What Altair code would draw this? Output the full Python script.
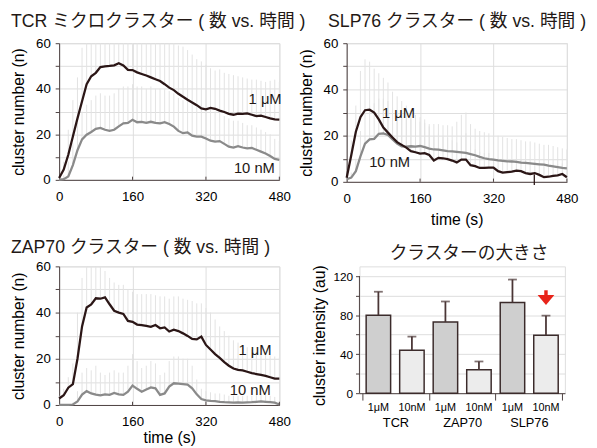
import altair as alt
import pandas as pd

# ---------------- data ----------------
TIME = list(range(0, 481, 10))
XTICK_LABELS = [0, 160, 320, 480]
XTICKS_IN = [160, 320, 480]

tcr_1um = [0.8, 4.5, 11, 19, 27, 34.5, 42, 45.5, 47, 49.5, 49.8, 50, 50.3, 51.2, 50.2, 48.3, 48.2,
           47.2, 46.5, 45.8, 45, 44.2, 43.4, 42, 40.5, 39.4, 37.8, 36.5, 35.2, 34, 32.8, 31.4, 31,
           31.6, 31.2, 30.4, 29.8, 29, 28.6, 29.1, 29, 29.2, 28.6, 28, 28.2, 27.6, 27, 26.6, 26.5]
tcr_10nm = [0, 0.3, 1.5, 6.5, 13, 17.8, 19.8, 21, 22.4, 22.8, 22, 21.5, 22, 23.5, 24.8, 25, 26.4,
            25.3, 25.5, 25, 25.5, 25, 24.8, 25.3, 24.5, 23.4, 21.5, 20.5, 20.8, 19.4, 19, 19, 18.2,
            17.2, 16.8, 17, 15.8, 14.6, 14.2, 14.8, 14.2, 13.8, 14, 13.2, 12.4, 11.6, 10.5, 9.2, 8.8]
tcr_1um_top = [1, 8, 22, 35, 45, 58, 60, 60, 60, 60, 60, 60, 60, 60, 60, 60, 60, 60, 60, 60, 60,
               60, 60, 60, 60, 60, 59, 58.5, 57, 55, 53, 52, 50.5, 49, 48, 48.5, 47, 46.5, 46, 45.5,
               45, 44.5, 44, 44, 43.5, 43, 43.5, 44, 43]
tcr_10nm_top = [0.5, 2, 8, 16, 25, 30, 33, 35, 37, 38, 37, 37, 38, 40, 41, 41, 42, 41, 41, 40, 41,
                40, 40, 40, 39, 38, 36, 35, 35, 34, 33, 33, 32, 31, 30, 30, 28, 27, 26, 26, 25, 24,
                24, 23, 22, 21, 20, 18, 17]

slp_1um = [1.8, 11.5, 21.7, 28, 31, 31.2, 30, 27, 23.5, 21.3, 19.2, 17.2, 16, 14.8, 13.3, 12.8,
           12.2, 12.4, 11.6, 9.2, 10.4, 10.2, 9.8, 9.2, 8.4, 9.6, 9.6, 7.2, 6.8, 6, 6, 6.2, 6.2,
           4.6, 4, 4.2, 4.4, 4.8, 4.6, 3.8, 3.4, 3.8, 3, 2, 2.2, 2.6, 2.8, 3.4, 2]
slp_10nm = [1.1, 1.8, 4.6, 11, 16.5, 18.4, 18.6, 20.8, 21, 20.3, 18.4, 16.6, 15.3, 15.2, 15.4,
            15.2, 15.5, 15, 14.4, 14, 13.9, 13.6, 13.3, 13.2, 13, 12.8, 12.5, 12, 11.5, 10.8, 10.2,
            9.8, 9.6, 9.3, 9.1, 8.9, 8.8, 8.6, 8.3, 8.2, 8, 7.8, 7.6, 7.4, 7, 6.7, 6.4, 6, 5.8]
slp_1um_top = [3, 18, 33, 48, 53, 52, 49, 47, 45, 43, 39, 37, 35, 33, 31, 29, 28, 27, 24, 20, 21,
               20, 19, 18, 17, 20, 21, 16, 14, 13, 12.5, 12.5, 12, 10, 9.5, 9.5, 9.5, 10, 9.5, 9,
               8.5, 8.5, 8, 7, 7, 7.5, 7.5, 8, 7]
slp_10nm_top = [2, 4, 10, 22, 30, 33, 34, 36, 36, 35, 32, 30, 28, 27, 27, 26, 26, 25.5, 25, 25,
                25, 24.5, 24.5, 24, 26, 29, 30, 25, 23, 22, 21.5, 21, 20.5, 20, 19.5, 19, 18.5,
                18.5, 18, 17.5, 17.5, 17, 16.5, 16, 16, 15.5, 15, 14.5, 14]
# the single dark error segment crossing the axis in the SLP76 panel
slp_mark_t = [409]
slp_mark_lo = [-1.4]
slp_mark_hi = [3.2]

zap_1um = [2.8, 4.2, 7.5, 9, 20, 34, 42.2, 43.5, 46.2, 46, 46.6, 43.6, 40.8, 40, 39.4, 36.4, 36,
           34.8, 34.6, 34.2, 33.8, 34.6, 33.2, 33.6, 31.8, 32.6, 32, 31, 29.9, 28.6, 28.4, 29.6,
           26, 24, 22, 20.4, 18.6, 17, 15.8, 15.2, 15, 14.4, 13.8, 13.4, 13, 12.6, 12, 11.4, 11.4]
zap_10nm = [0, 0, 0, 0.2, 1.5, 4.5, 6, 5, 4.5, 4.2, 4.6, 4.4, 5.2, 4.6, 4.4, 5.8, 8.4, 7, 5.7,
            6.7, 7.6, 7.2, 4.4, 5, 8, 9.4, 9.2, 9, 8.8, 7.2, 4.6, 2.6, 2, 1.8, 1.7, 1.4, 1.2, 1.1,
            1, 1.1, 1, 1.1, 1.2, 1.4, 1.6, 1.4, 1.2, 1, 0.2]
zap_1um_top = [4, 7, 12, 18, 40, 55, 60, 60, 60, 60, 58, 55, 53, 52, 52, 50, 49, 48, 48, 48, 48,
               47.5, 47, 47, 46, 47, 47, 46, 45.5, 45, 44, 44, 42, 40, 37, 34, 32, 30, 28, 27, 26,
               25, 24, 23, 22.5, 22, 21.5, 21, 20.5]
zap_10nm_top = [0, 0, 0, 1, 6, 14, 16, 15, 17, 14, 13, 14, 15, 14, 14, 17, 22, 19, 16, 17, 19, 18,
                13, 14, 19, 21, 21, 20, 20, 17, 11, 7, 6, 5.5, 5, 5, 4.5, 4, 4, 4, 4, 4, 4, 4.5, 5,
                4.5, 4, 3.5, 1]

SERIES = ["1 μM", "10 nM"]
# label positions (time, value) for the in-plot series labels
tcr_label_t = [413, 381]
tcr_label_v = [35.4, 5]
slp_label_t = [77, 49]
slp_label_v = [29.9, 8.6]
zap_label_t = [391, 372]
zap_label_v = [23.8, 6.4]

CATS = ["TCR 1μM", "TCR 10nM", "ZAP70 1μM", "ZAP70 10nM", "SLP76 1μM", "SLP76 10nM"]
GROUPS = ["TCR", "TCR", "ZAP70", "ZAP70", "SLP76", "SLP76"]
GROUP_ORDER = ["TCR", "ZAP70", "SLP76"]
CONC = ["1μM", "10nM", "1μM", "10nM", "1μM", "10nM"]
BAR_MEAN = [80, 44, 73, 24, 93, 59.5]
BAR_TOP = [104, 58, 94, 32.5, 116.5, 79.5]
ARROW_CAT = ["SLP76 10nM"]
ARROW_LO = [99]
ARROW_HI = [105.5]
ARROW_HEAD = [95.5]

# ---------------- style ----------------
TXT = "#231815"
AX = "#4d4040"
DARK = "#2b1616"
GREY = "#8a8a8a"
ERR = "#e2e2e2"
FONT = "Liberation Sans"
TFONT = "Liberation Sans, Noto Sans CJK JP"


def x_enc(field, title, tpad):
    return alt.X(f"{field}:Q",
                 scale=alt.Scale(domain=[0, 480], nice=False, zero=False),
                 axis=alt.Axis(values=XTICK_LABELS, ticks=False, labelPadding=10,
                               title=title, titlePadding=tpad, labelFontSize=13.5,
                               titleFontSize=16, titleFontWeight="normal",
                               domainColor=AX, labelFlush=False))


def y_enc(field):
    return alt.Y(f"{field}:Q",
                 scale=alt.Scale(domain=[0, 60], nice=False),
                 axis=alt.Axis(values=list(range(0, 61, 10)),
                               labelExpr="datum.value % 20 == 0 ? datum.label : ''",
                               tickSize=4, labelPadding=5, labelFontSize=13.5,
                               title="cluster number (n)", titlePadding=9,
                               titleFontSize=16, titleFontWeight="normal",
                               domainColor=AX, tickColor=AX))


def line_panel(title, tdx, toff, tdy, m1, u1, m2, u2, lt, lv, height, xtitle, tpad,
               mark=None):
    df = pd.DataFrame({
        "t": TIME + TIME,
        "mean": m1 + m2,
        "upper": u1 + u2,
        "series": [SERIES[0]] * len(TIME) + [SERIES[1]] * len(TIME),
    })
    lab = pd.DataFrame({"lt": lt, "lv": lv, "txt": SERIES})
    tk = pd.DataFrame({"tt": XTICKS_IN, "y0": [0] * 3, "y1": [1.4] * 3})
    base = alt.Chart(df)
    X = lambda f: x_enc(f, xtitle, tpad)
    err = base.mark_rule(color=ERR, strokeWidth=1).encode(
        x=X("t"), y=y_enc("mean"), y2="upper:Q")
    l10 = base.transform_filter(alt.datum.series == SERIES[1]).mark_line(
        color=GREY, strokeWidth=2.3).encode(x=X("t"), y=y_enc("mean"))
    l1 = base.transform_filter(alt.datum.series == SERIES[0]).mark_line(
        color=DARK, strokeWidth=2.3).encode(x=X("t"), y=y_enc("mean"))
    txt = alt.Chart(lab).mark_text(align="left", baseline="middle", fontSize=15,
                                   font=FONT, color=TXT).encode(
        x=X("lt"), y=y_enc("lv"), text="txt:N")
    ticks = alt.Chart(tk).mark_rule(color=AX, strokeWidth=1).encode(
        x=X("tt"), y=y_enc("y0"), y2="y1:Q")
    layers = [err, l10, l1, txt, ticks]
    if mark is not None:
        mdf = pd.DataFrame({"mt": mark[0], "mlo": mark[1], "mhi": mark[2]})
        layers.append(alt.Chart(mdf).mark_rule(color=DARK, strokeWidth=1.3).encode(
            x=X("mt"), y=y_enc("mlo"), y2="mhi:Q"))
    return alt.layer(*layers).properties(
        width=224, height=height,
        title=alt.TitleParams(title, anchor="start", frame="group", dx=tdx, dy=tdy,
                              offset=toff, baseline="alphabetic", fontSize=18, font=TFONT,
                              fontWeight="normal", color=TXT))


p1 = line_panel("TCR ミクロクラスター ( 数 vs. 時間 )", -49, 18, 26,
                tcr_1um, tcr_1um_top, tcr_10nm, tcr_10nm_top,
                tcr_label_t, tcr_label_v, 139, None, 5)
p2 = line_panel("SLP76 クラスター ( 数 vs. 時間 )", -19, 18, 26,
                slp_1um, slp_1um_top, slp_10nm, slp_10nm_top,
                slp_label_t, slp_label_v, 141, "time (s)", 7,
                mark=(slp_mark_t, slp_mark_lo, slp_mark_hi))
p3 = line_panel("ZAP70 クラスター ( 数 vs. 時間 )", -49, 14, 25,
                zap_1um, zap_1um_top, zap_10nm, zap_10nm_top,
                zap_label_t, zap_label_v, 141, "time (s)", 2)

# ---------------- bar panel ----------------
bar_df = pd.DataFrame({"cat": CATS, "grp": GROUPS, "conc": CONC,
                       "mean": BAR_MEAN, "top": BAR_TOP})
arrow_df = pd.DataFrame({"cat": ARROW_CAT, "lo": ARROW_LO, "hi": ARROW_HI, "head": ARROW_HEAD})
axis_line_df = pd.DataFrame({"a": [0], "b": [120]})

cat_axis = alt.Axis(labelExpr="split(datum.label, ' ')[1]", labelAngle=0, ticks=False,
                    tickSize=0, domain=False, labelPadding=9, labelFontSize=11,
                    title=None, labelFont=FONT)
cat_scale = alt.Scale(domain=CATS, paddingInner=0.27, paddingOuter=0.2)
y_axis_b = alt.Axis(values=list(range(0, 121, 20)),
                    labelExpr="datum.value % 40 == 0 ? datum.label : ''",
                    domain=False, tickSize=4, labelPadding=3, labelFontSize=12,
                    title="cluster intensity (au)", titleFontSize=16, titlePadding=6,
                    titleFontWeight="normal", titleY=70, tickColor=AX)
y_scale_b = alt.Scale(domain=[0, 130], nice=False)


def xc():
    return alt.X("cat:N", sort=CATS, scale=cat_scale, axis=cat_axis)


def yb(field):
    return alt.Y(f"{field}:Q", scale=y_scale_b, axis=y_axis_b)


bars = alt.Chart(bar_df).mark_bar(stroke="#3b2b2b", strokeWidth=1.5).encode(
    x=xc(), y=yb("mean"),
    fill=alt.Fill("conc:N", scale=alt.Scale(domain=["1μM", "10nM"],
                                            range=["#cfcfcf", "#ececec"]), legend=None))
errs = alt.Chart(bar_df).mark_rule(color="#4a3636", strokeWidth=1.8).encode(
    x=xc(), y=yb("mean"), y2="top:Q")
caps = alt.Chart(bar_df).mark_tick(color="#4a3636", thickness=1.8, size=9,
                                   orient="horizontal").encode(x=xc(), y=yb("top"))
shaft = alt.Chart(arrow_df).mark_rule(color="#e8241a", strokeWidth=3.5).encode(
    x=xc(), y=yb("lo"), y2="hi:Q")
head = alt.Chart(arrow_df).mark_point(shape="M-1,-0.59L1,-0.59L0,0.59Z", filled=True,
                                      color="#e8241a", size=289, opacity=1,
                                      strokeWidth=0).encode(x=xc(), y=yb("head"))
yline = alt.Chart(axis_line_df).mark_rule(color=AX, strokeWidth=1).encode(
    x=alt.value(0), y=yb("a"), y2="b:Q")
inner = alt.layer(bars, errs, caps, shaft, head, yline)

grp_layer = alt.Chart(bar_df).mark_rule(opacity=0).encode(
    x=alt.X("grp:N", sort=GROUP_ORDER,
            scale=alt.Scale(domain=GROUP_ORDER, paddingInner=0, paddingOuter=0.04),
            axis=alt.Axis(orient="bottom", tickBand="extent", tickSize=7, labelPadding=17,
                          labelAngle=0, labelFontSize=13, title=None, domainColor=AX,
                          tickColor=AX, labelFont=FONT)))

p4 = alt.layer(inner, grp_layer).resolve_scale(x="independent").properties(
    width=209, height=129,
    title=alt.TitleParams("クラスターの大きさ", anchor="middle", frame="group", dx=7, dy=20,
                          offset=8, baseline="alphabetic", fontSize=18, font=TFONT,
                          fontWeight="normal", color=TXT))

row1 = alt.hconcat(p1, p2, spacing=68.5, bounds="flush")
row2 = alt.hconcat(p3, p4, spacing=81.5, bounds="flush")

chart = alt.vconcat(row1, row2, spacing=10).properties(
    padding={"left": 2, "top": 0, "right": 1, "bottom": 2}
).configure_view(stroke=None).configure_axis(
    grid=False, labelColor=TXT, titleColor=TXT, labelFont=FONT, titleFont=FONT,
    titleFontWeight="normal", domainColor=AX, tickColor=AX
).configure(background="white")

chart.save("out.html", embed_options={"renderer": "svg", "actions": False})
